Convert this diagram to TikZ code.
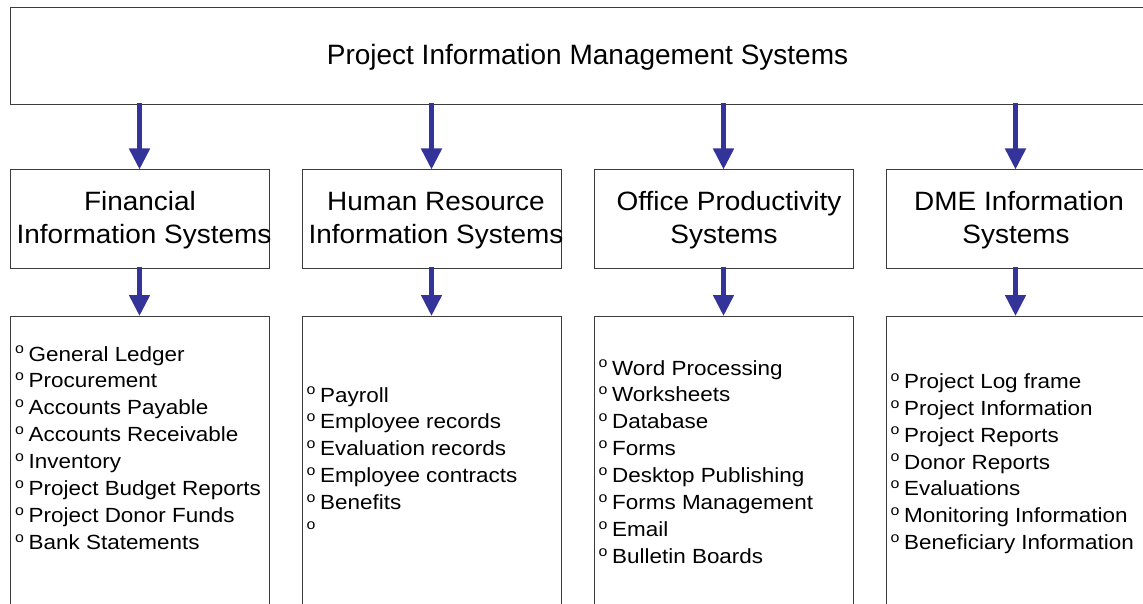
\documentclass[tikz,border=0pt]{standalone}
\usepackage{fontspec}
\setmainfont{Liberation Sans}
\newfontfamily\headfont[FakeStretch=1.055]{Liberation Sans}
\newfontfamily\listfont[FakeStretch=1.095]{Liberation Sans}
\usetikzlibrary{arrows.meta}
\definecolor{arrowblue}{RGB}{51,51,153}
\definecolor{boxline}{RGB}{60,60,60}
\newcommand\bul{\makebox[13.5pt][l]{\raisebox{7.2pt}{\fontsize{14.5}{14.5}\selectfont o}}}
\begin{document}
\begin{tikzpicture}[x=1pt,y=-1pt,
  frame/.style={draw=boxline, line width=1pt, fill=white, inner sep=0pt, minimum width=259pt},
  catbox/.style={frame, minimum height=98pt},
  listbox/.style={frame, minimum height=300pt},
  flow/.style={draw=arrowblue, line width=4.7pt, -{Triangle[width=20pt,length=21pt]}},
  cat/.style={font=\headfont\fontsize{26.5}{30.5}\selectfont, inner sep=0pt, anchor=base},
  item/.style={font=\listfont\fontsize{20.5}{24}\selectfont, inner sep=0pt, anchor=base west}
]
\useasboundingbox (0,0) rectangle (1143,604);
\fill[white] (0,0) rectangle (1143,604);
\clip (0,0) rectangle (1143,604);

% top box
\node[frame, minimum width=1155pt, minimum height=97pt] (top) at (587.5,56.5) {};
\node[font=\fontsize{28}{32}\selectfont, inner sep=0pt, anchor=base] (title) at (587.5,65) {Project Information Management Systems};

% category boxes
\node[catbox] (c1) at (139.5,219) {};
\node[catbox] (c2) at (431.5,219) {};
\node[catbox] (c3) at (723.5,219) {};
\node[catbox] (c4) at (1015.5,219) {};

\node[cat] (c1a) at (140,210.5) {Financial};
\node[cat] (c1b) at (144,243.5) {Information Systems};
\node[cat] (c2a) at (436,210.5) {Human Resource};
\node[cat] (c2b) at (436,243.5) {Information Systems};
\node[cat] (c3a) at (729,210.5) {Office Productivity};
\node[cat] (c3b) at (724,243.5) {Systems};
\node[cat] (c4a) at (1019,210.5) {DME Information};
\node[cat] (c4b) at (1016,243.5) {Systems};

% list boxes
\node[listbox, anchor=north] (d1) at (139.5,316) {};
\node[listbox, anchor=north] (d2) at (431.5,316) {};
\node[listbox, anchor=north] (d3) at (723.5,316) {};
\node[listbox, anchor=north] (d4) at (1015.5,316) {};

\foreach \t [count=\i] in {General Ledger, Procurement, Accounts Payable, Accounts Receivable, Inventory, Project Budget Reports, Project Donor Funds, Bank Statements}
  \node[item] (a\i) at (15,{361+26.9*(\i-1)}) {\bul\t};
\foreach \t [count=\i] in {Payroll, Employee records, Evaluation records, Employee contracts, Benefits, {}}
  \node[item] (b\i) at (306.5,{402+26.9*(\i-1)}) {\bul\t};
\foreach \t [count=\i] in {Word Processing, Worksheets, Database, Forms, Desktop Publishing, Forms Management, Email, Bulletin Boards}
  \node[item] (e\i) at (598.5,{375+26.9*(\i-1)}) {\bul\t};
\foreach \t [count=\i] in {Project Log frame, Project Information, Project Reports, Donor Reports, Evaluations, Monitoring Information, Beneficiary Information}
  \node[item] (f\i) at (890.5,{388.3+26.9*(\i-1)}) {\bul\t};

% arrows
\foreach \n in {1,2,3,4} {
  \draw[flow] ([yshift=2pt]top.south -| c\n.north) -- (c\n.north);
  \draw[flow] ([yshift=2pt]c\n.south) -- (d\n.north);
}
\end{tikzpicture}
\end{document}
